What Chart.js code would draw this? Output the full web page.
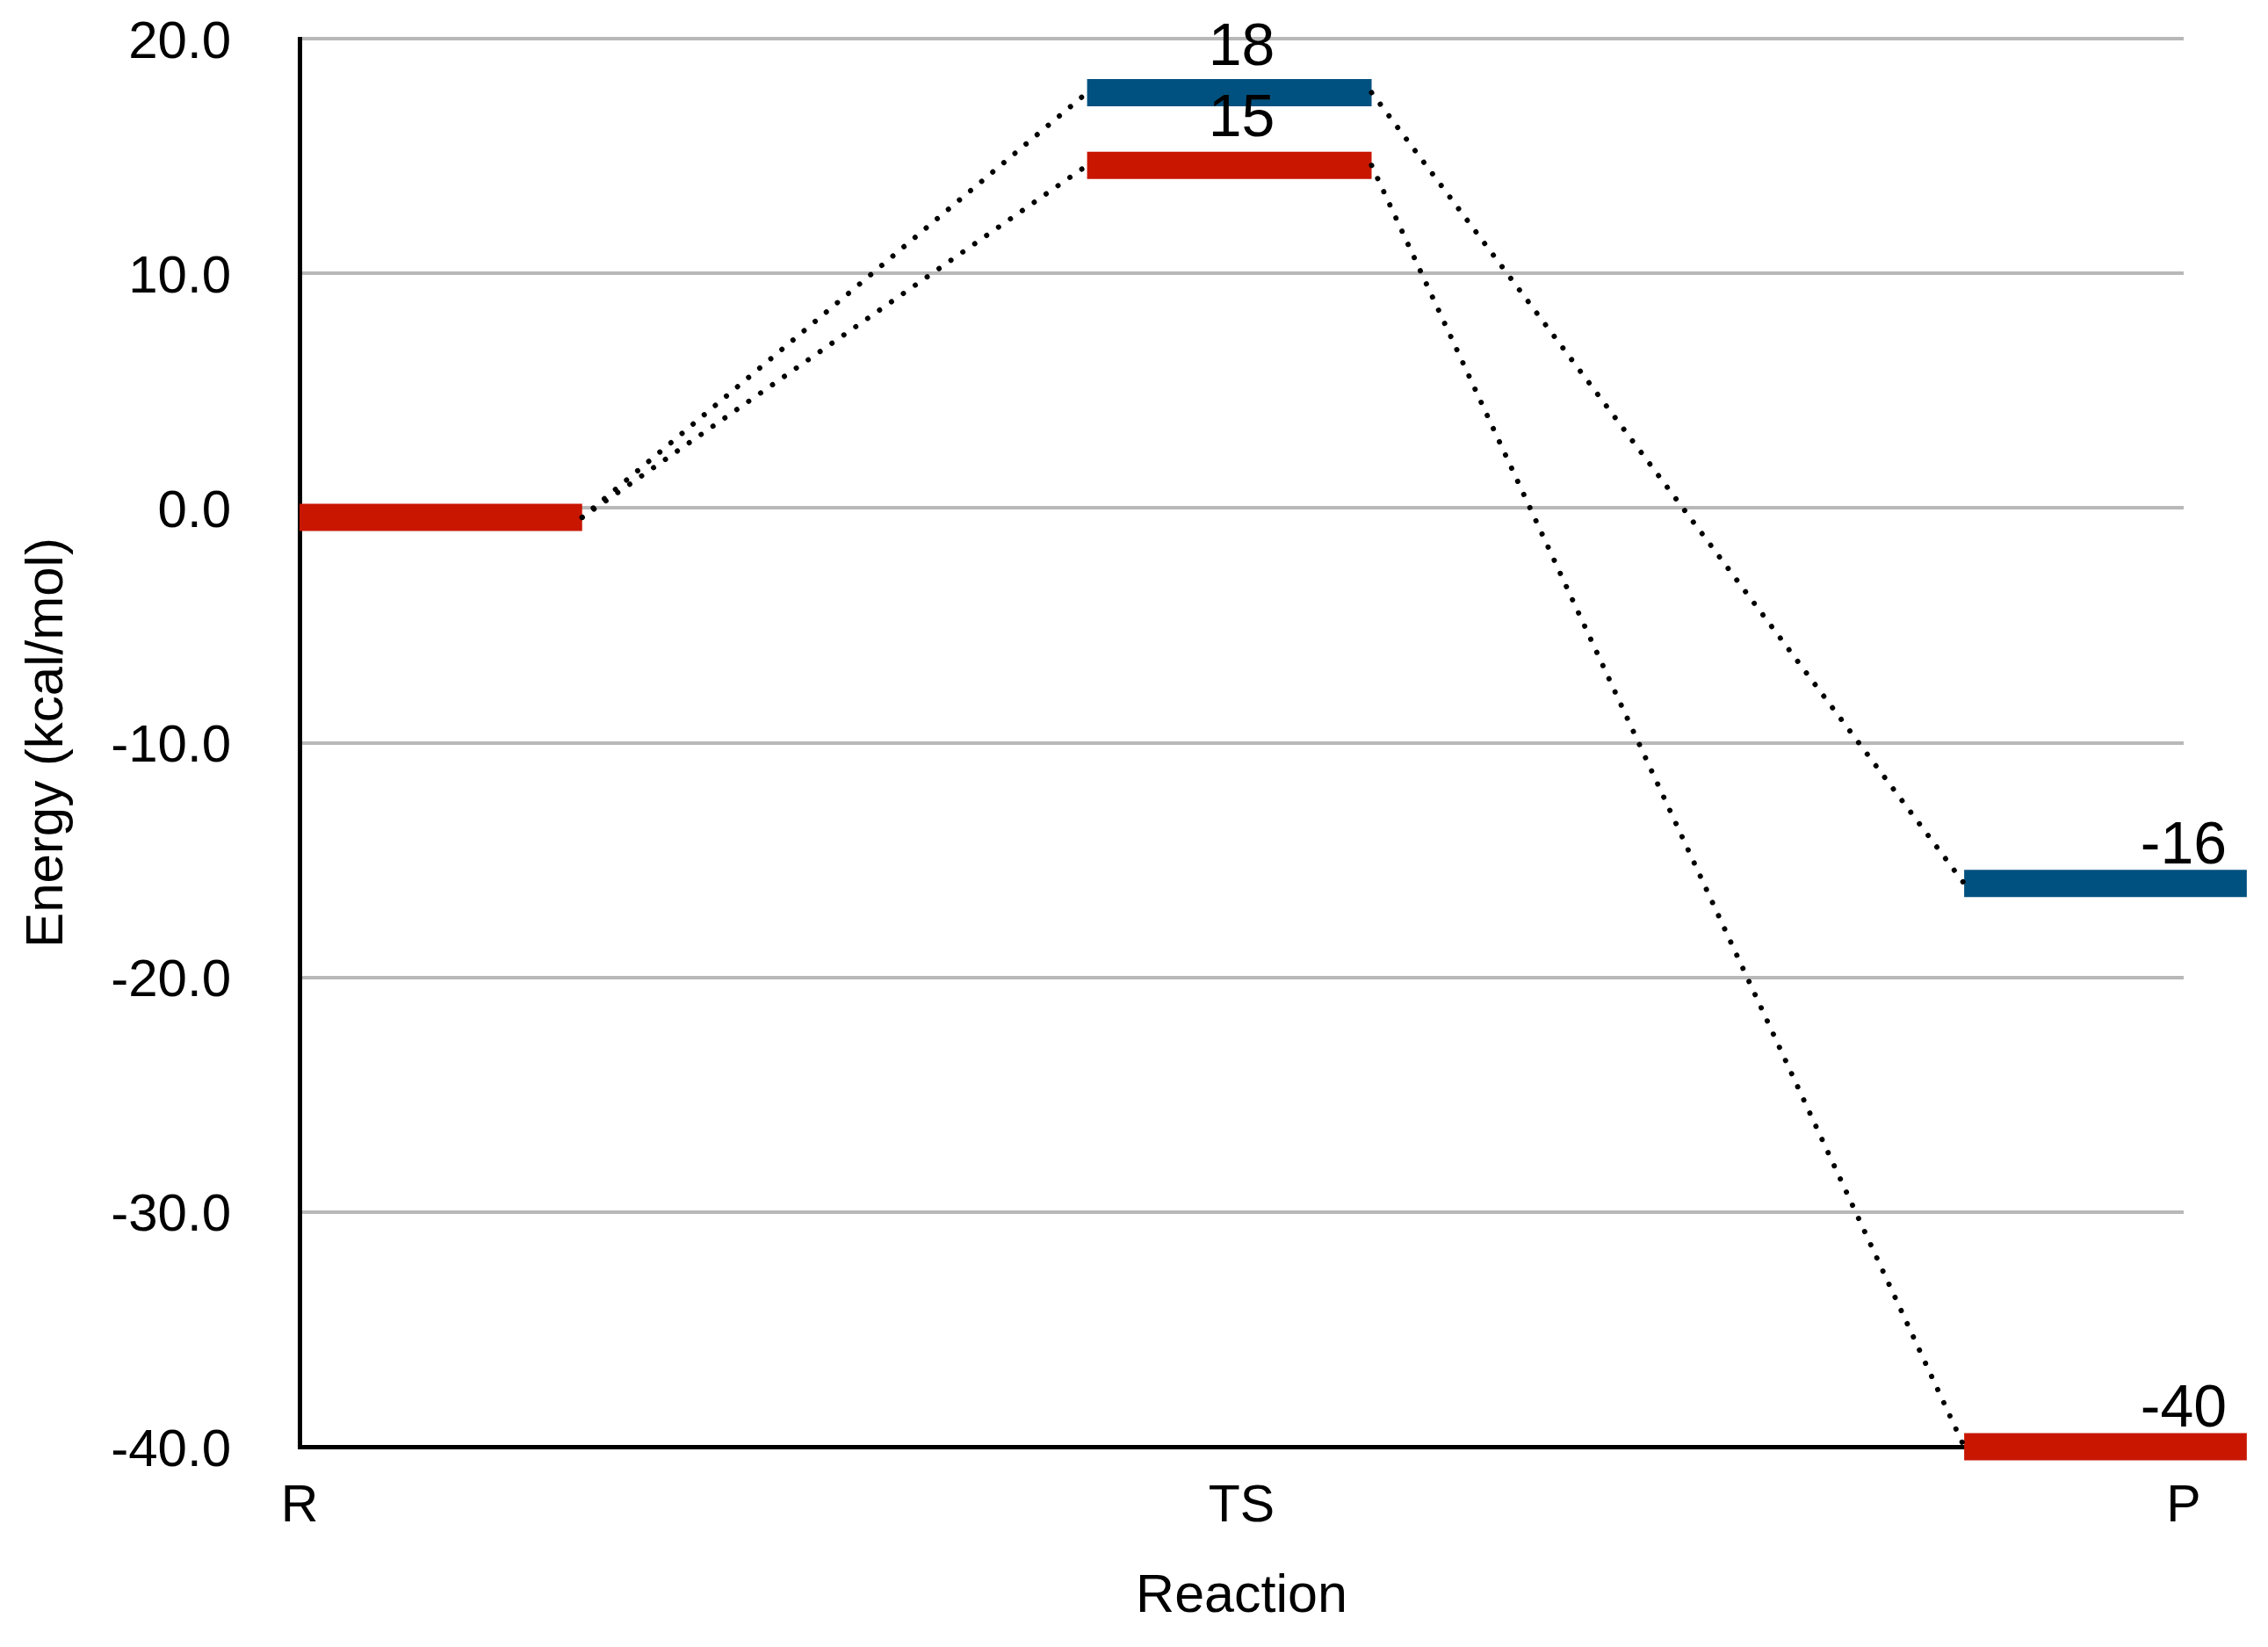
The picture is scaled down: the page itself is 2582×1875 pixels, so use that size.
<!DOCTYPE html>
<html>
<head>
<meta charset="utf-8">
<script src="https://cdn.jsdelivr.net/npm/chart.js@4.4.1/dist/chart.umd.min.js"></script>
<style>
  html, body { margin: 0; padding: 0; background: #ffffff; }
  #wrap { width: 2582px; height: 1875px; position: relative; }
  canvas { display: block; }
</style>
</head>
<body>
<div id="wrap"><canvas id="c" width="2582" height="1875"></canvas></div>
<script>
// ---- data ----
const stages = ['R', 'TS', 'P'];
const yTickValues = [-40, -30, -20, -10, 0, 10, 20];
// energy levels as drawn (kcal/mol)
const redLevels  = [-0.4, 14.6, -40];
const blueLevels = [-0.4, 17.7, -16];   // blue path starts from the common reactant level
// printed labels
const redLabels  = [null, 15, -40];
const blueLabels = [null, 18, -16];
// horizontal extent of each level, in stage units
const levelFrom = [0, 0.836, 1.767];
const levelTo   = [0.30, 1.138, 2.067];

const RED = '#C81600';
const BLUE = '#00517F';
const FONT = "'Liberation Sans', Arial, Helvetica, sans-serif";

function levelDataset(vals, color, skip) {
  return vals.map((v, i) => (skip && skip[i]) ? null : ({
    type: 'line',
    data: [{x: levelFrom[i], y: v}, {x: levelTo[i], y: v}],
    borderColor: color,
    borderWidth: 31,
    borderCapStyle: 'butt',
    pointRadius: 0,
    fill: false,
    clip: false,
    order: 2
  })).filter(Boolean);
}

function connectorDataset(vals) {
  const sets = [];
  for (let i = 0; i < vals.length - 1; i++) {
    sets.push({
      type: 'line',
      data: [{x: levelTo[i], y: vals[i]}, {x: levelFrom[i + 1], y: vals[i + 1]}],
      borderColor: '#000000',
      borderWidth: 6,
      borderDash: [0.01, 16.5],
      borderCapStyle: 'round',
      pointRadius: 0,
      fill: false,
      clip: false,
      order: 1
    });
  }
  return sets;
}

const datasets = []
  .concat(connectorDataset(redLevels))
  .concat(connectorDataset(blueLevels))
  .concat(levelDataset(redLevels, RED))
  .concat(levelDataset(blueLevels, BLUE, [true, false, false]));

const labelPlugin = {
  id: 'levelLabels',
  afterDatasetsDraw(chart) {
    const {ctx, scales: {x, y}} = chart;
    ctx.save();
    ctx.fillStyle = '#000000';
    ctx.font = `68px ${FONT}`;
    ctx.textAlign = 'center';
    ctx.textBaseline = 'alphabetic';
    [redLabels, blueLabels].forEach(arr => {
      arr.forEach((v, i) => {
        if (v === null) return;
        ctx.fillText(String(v), x.getPixelForValue(i), y.getPixelForValue(v) - 23);
      });
    });
    ctx.restore();
  }
};

new Chart(document.getElementById('c'), {
  type: 'scatter',
  data: { datasets },
  options: {
    responsive: false,
    animation: false,
    devicePixelRatio: 1,
    layout: { padding: { top: 44, right: 96, bottom: 0, left: 0 } },
    plugins: { legend: { display: false }, tooltip: { enabled: false } },
    scales: {
      x: {
        type: 'linear',
        min: 0,
        max: stages.length - 1,
        afterBuildTicks(scale) {
          scale.ticks = stages.map((s, i) => ({ value: i }));
        },
        afterFit(scale) {
          scale.height = 228;
          scale.paddingLeft = 0; scale.paddingRight = 0;
        },
        ticks: {
          callback: (v) => stages[v] ?? '',
          color: '#000000',
          font: { family: FONT, size: 59 },
          padding: 33,
          maxRotation: 0,
          autoSkip: false
        },
        grid: { display: false, drawTicks: false },
        border: { display: true, color: '#000000', width: 5 },
        title: {
          display: true,
          text: 'Reaction',
          color: '#000000',
          font: { family: FONT, size: 61 },
          padding: { top: 0, bottom: 20 }
        }
      },
      y: {
        type: 'linear',
        min: yTickValues[0],
        max: yTickValues[yTickValues.length - 1],
        afterBuildTicks(scale) {
          scale.ticks = yTickValues.map(v => ({ value: v }));
        },
        afterFit(scale) {
          scale.width = 341;
          scale.paddingTop = 0; scale.paddingBottom = 0;
        },
        ticks: {
          callback: (v) => Number(v).toFixed(1),
          color: '#000000',
          font: { family: FONT, size: 60 },
          padding: 78,
          labelOffset: 5
        },
        grid: { color: '#B8B8B8', lineWidth: 4, drawTicks: false },
        border: { display: true, color: '#000000', width: 5 },
        title: {
          display: true,
          text: 'Energy (kcal/mol)',
          color: '#000000',
          font: { family: FONT, size: 60 },
          padding: { top: 18, bottom: 0 }
        }
      }
    }
  },
  plugins: [labelPlugin]
});
</script>
</body>
</html>
